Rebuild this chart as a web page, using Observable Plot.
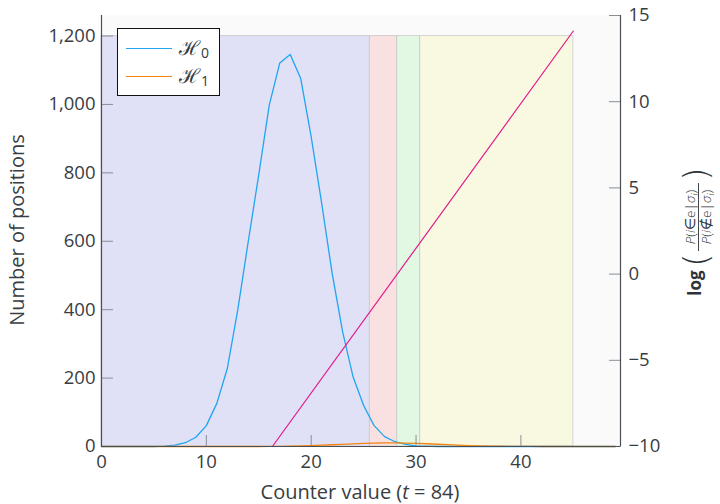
<!DOCTYPE html>
<html>
<head>
<meta charset="utf-8">
<script src="https://cdn.jsdelivr.net/npm/d3@7"></script>
<script src="https://cdn.jsdelivr.net/npm/@observablehq/plot@0.6"></script>
<style>
  body { margin: 0; background: #ffffff; }
  #chart { position: relative; width: 720px; height: 504px; font-family: "Open Sans", sans-serif; }
  #legend { position: absolute; left: 117px; top: 28px; width: 101px; height: 66px; background: #fff; border: 1px solid #111; }
  .lg-row { position: absolute; left: 8px; height: 20px; }
  .lg-line { position: absolute; left: 0; top: 9px; width: 46px; height: 0; }
  .lg-text { position: absolute; left: 53px; top: -5px; font-family: "DejaVu Serif", serif; font-size: 20px; color: #333a40; white-space: nowrap; }
  .lg-text sub { font-family: "Open Sans", sans-serif; font-style: normal; font-size: 14px; vertical-align: -3px; margin-left: 1px; }
</style>
</head>
<body>
<div id="chart"></div>
<script>
// ---------- data ----------
const counter = d3.range(0, 50);
const h0Counts = [0, 0, 0, 0, 0, 0, 1, 4, 11, 27, 61, 126, 228, 400, 600, 795, 998, 1121, 1146, 1076,
  905, 711, 506, 335, 203, 120, 61, 29, 14, 6, 2, 1, 0, 0, 0, 0, 0, 0, 0, 0,
  0, 0, 0, 0, 0, 0, 0, 0, 0, 0];
const h1Counts = [0, 0, 0, 0, 0, 0, 0, 0, 0, 0, 0, 0, 0, 0, 0, 0, 0.3, 0.6, 1.1, 1.8,
  2.7, 3.8, 5.1, 6.5, 7.9, 9.1, 10.1, 10.6, 10.6, 10.1, 9.2, 8, 6.6, 5.2, 3.9, 2.8, 1.9, 1.2, 0.7, 0.4,
  0.2, 0.1, 0, 0, 0, 0, 0, 0, 0, 0];
const bandStart = [0, 25.6, 28.2, 30.4];
const bandEnd = [25.6, 28.2, 30.4, 45];
const bandColor = ["#e0e0f7", "#f9e0e1", "#e2f8e2", "#f9f9e2"];
const bandBottom = 0, bandTop = 1200;
const ratioT = [16.3, 45];
const ratioValue = [-10, 14.1];
const xTicks = [0, 10, 20, 30, 40];
const leftTicks = [0, 200, 400, 600, 800, 1000, 1200];
const rightTicks = [-10, -5, 0, 5, 10, 15];
const xDomain = [0, 49.5];
const leftDomain = [0, 1260];
const rightDomain = [-10, 15];

// ---------- tables ----------
const h0 = counter.map((t, i) => ({t, n: h0Counts[i]}));
const h1 = counter.map((t, i) => ({t, n: h1Counts[i]}));
const bands = bandStart.map((s, i) => ({start: s, end: bandEnd[i], color: bandColor[i]}));
const K = (leftDomain[1] - leftDomain[0]) / (rightDomain[1] - rightDomain[0]);
const toLeft = v => (v - rightDomain[0]) * K;
const fromLeft = v => Math.round(v / K + rightDomain[0]);
const ratio = ratioT.map((t, i) => ({t, v: toLeft(ratioValue[i])}));
const minus = v => (v < 0 ? "\u2212" + Math.abs(v) : String(v));

const blue = "#1fa6ef", orange = "#f5820f", magenta = "#e2198c";
const tickColor = "#8a8f94", axisColor = "#4a4f55", textColor = "#383d42";

const svgEl = Plot.plot({
  width: 720,
  height: 504,
  marginLeft: 101,
  marginRight: 100,
  marginTop: 15,
  marginBottom: 58,
  x: {domain: xDomain},
  y: {domain: leftDomain},
  color: {type: "identity"},
  style: {fontFamily: "'Open Sans', sans-serif", fontSize: "18.5px", color: textColor, background: "#ffffff", fontWeight: 400},
  marks: [
    Plot.frame({fill: "#fafafa", stroke: null}),
    Plot.rect(bands, {x1: "start", x2: "end", y1: bandBottom, y2: bandTop, fill: "color", stroke: "#c4c4c4", strokeOpacity: 0.7}),
    Plot.line(h0, {x: "t", y: "n", stroke: blue, strokeWidth: 1.3}),
    Plot.line(h1, {x: "t", y: "n", stroke: orange, strokeWidth: 1.3}),
    Plot.line(ratio, {x: "t", y: "v", stroke: magenta, strokeWidth: 1.2}),
    // inward ticks
    Plot.axisX({ticks: xTicks, tickSize: -11, fill: "none", stroke: tickColor, label: null}),
    Plot.axisY({ticks: leftTicks, tickSize: -12, fill: "none", stroke: tickColor, label: null}),
    Plot.axisY({anchor: "right", ticks: rightTicks.map(toLeft), tickSize: -12, fill: "none", stroke: tickColor, label: null}),
    // tick labels
    Plot.axisX({ticks: xTicks, tickSize: 0, tickPadding: 8, label: null, tickFormat: d => String(d)}),
    Plot.axisY({ticks: leftTicks, tickSize: 0, tickPadding: 6, label: null, tickFormat: d3.format(",")}),
    Plot.axisY({anchor: "right", ticks: rightTicks.map(toLeft), tickSize: 0, tickPadding: 8, label: null, tickFormat: v => minus(fromLeft(v))}),
    // axis lines
    Plot.ruleX([xDomain[0], xDomain[1]], {stroke: axisColor, strokeWidth: 1.2}),
    Plot.ruleY([leftDomain[0]], {stroke: axisColor, strokeWidth: 1.2})
  ]
});

const chart = document.getElementById("chart");
chart.appendChild(svgEl);
const svg = d3.select(svgEl);

// left axis label
svg.append("text")
  .attr("transform", "translate(24,230) rotate(-90)")
  .attr("text-anchor", "middle")
  .attr("font-size", 20)
  .attr("fill", textColor)
  .text("Number of positions");

// bottom axis label
const xl = svg.append("text")
  .attr("x", 360).attr("y", 499)
  .attr("text-anchor", "middle")
  .attr("font-size", 20)
  .attr("fill", textColor);
xl.append("tspan").text("Counter value (");
xl.append("tspan").attr("font-style", "italic").text("t");
xl.append("tspan").text(" = 84)");

// right axis label: log( P(i∈e|σi) / P(i∉e|σi) )
const g = svg.append("g")
  .attr("transform", "translate(700,245) rotate(-90)")
  .attr("fill", "#2e3338");
g.append("text").attr("x", -38).attr("y", 1).attr("text-anchor", "middle")
  .attr("font-weight", "bold").attr("font-size", 17).text("log");
g.append("text").attr("x", -15).attr("y", 8).attr("text-anchor", "middle")
  .attr("font-family", "'DejaVu Sans', sans-serif")
  .attr("font-size", 34).attr("font-weight", 200).text("(");
g.append("text").attr("x", 71).attr("y", 8).attr("text-anchor", "middle")
  .attr("font-family", "'DejaVu Sans', sans-serif")
  .attr("font-size", 34).attr("font-weight", 200).text(")");
function fracPart(y, rel) {
  const t = g.append("text").attr("x", 28).attr("y", y).attr("text-anchor", "middle").attr("font-size", 13.5).attr("font-weight", 300);
  t.append("tspan").attr("font-style", "italic").text("P");
  t.append("tspan").text("(");
  t.append("tspan").attr("font-style", "italic").text("i");
  t.append("tspan").text(rel + "e|");
  t.append("tspan").attr("font-style", "italic").text("σ");
  t.append("tspan").attr("font-style", "italic").attr("font-size", 9.5).attr("dy", 3).text("i");
  t.append("tspan").attr("dy", -3).text(")");
}
fracPart(-5, "∈");
fracPart(11, "∉");
g.append("line").attr("x1", -6).attr("x2", 62).attr("y1", -1.5).attr("y2", -1.5)
  .attr("stroke", "#2e3338").attr("stroke-width", 0.9);

// legend
const legend = document.createElement("div");
legend.id = "legend";
legend.innerHTML = `
  <div class="lg-row" style="top:10px"><div class="lg-line" style="border-top:1.5px solid ${blue}"></div><div class="lg-text">ℋ<sub>0</sub></div></div>
  <div class="lg-row" style="top:38px"><div class="lg-line" style="border-top:1.5px solid ${orange}"></div><div class="lg-text">ℋ<sub>1</sub></div></div>`;
chart.appendChild(legend);
</script>
</body>
</html>
